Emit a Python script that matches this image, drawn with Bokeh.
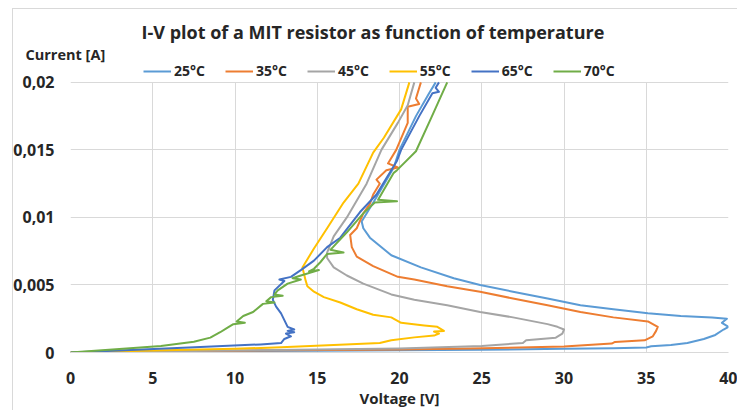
from bokeh.plotting import figure
from bokeh.models import Range1d, FixedTicker, Legend, LegendItem, Title, InlineStyleSheet
from bokeh.embed import file_html
from bokeh.resources import INLINE

# ---------------- data ----------------
series_labels = ["25°C", "35°C", "45°C", "55°C", "65°C", "70°C"]
series_colors = ["#5B9BD5", "#ED7D31", "#A5A5A5", "#FFC000", "#4472C4", "#70AD47"]

v25 = [0, 5, 10, 15, 20, 25, 30, 33, 35, 35.3, 36.5, 37.5, 38.5, 39.2, 39.7, 40.0, 39.6, 39.9, 39.0,
       37.1, 35.1, 33.0, 31.0, 29.0, 26.9, 24.9, 23.3, 21.3, 19.5, 18.2, 17.8, 17.7, 18.1, 18.6,
       19.65, 20.0, 21.0, 21.8, 22.2]
i25 = [0, 0.00005, 0.0001, 0.00013, 0.00016, 0.00021, 0.00027, 0.00032, 0.00037, 0.00046, 0.00055,
       0.0007, 0.001, 0.0013, 0.0017, 0.0019, 0.0022, 0.0025, 0.0026,
       0.0027, 0.0029, 0.0032, 0.0035, 0.0040, 0.0045, 0.0050, 0.0055, 0.0063, 0.0072, 0.0085, 0.0092,
       0.0097, 0.0105, 0.0115, 0.0137, 0.0150, 0.0175, 0.0192, 0.0200]

v35 = [0, 5, 10, 20, 24.3, 30, 32.9, 33.1, 34.9, 35.4, 35.6, 35.7, 35.1, 33.0, 31.0, 29.0, 26.9, 24.9,
       22.9, 20.9, 19.9, 18.4, 17.4, 17.1, 17.0, 17.4, 17.8, 18.2, 18.4, 18.8, 18.6, 19.2, 19.9, 19.3,
       19.8, 20.5, 20.5, 21.2, 21.0, 21.3]
i35 = [0, 0.00007, 0.00013, 0.00022, 0.00029, 0.00045, 0.00066, 0.00078, 0.0009, 0.0012, 0.0016,
       0.0019, 0.0023, 0.0026, 0.0030, 0.0035, 0.0040, 0.0045,
       0.0049, 0.0054, 0.0056, 0.0064, 0.0071, 0.0078, 0.0087, 0.0092, 0.0103, 0.0110, 0.0117, 0.0125,
       0.0128, 0.0135, 0.0137, 0.0140, 0.0150, 0.0170, 0.0182, 0.0184, 0.0188, 0.0200]

v45 = [0, 5, 10, 20, 25, 27.5, 27.7, 29.5, 29.9, 30.0, 29.6, 29.0, 26.9, 24.9, 22.9, 20.9, 19.5,
       17.8, 16.8, 16.0, 15.6, 15.6, 16.0, 16.8, 18.0, 18.9, 19.9, 20.5, 20.9]
i45 = [0, 0.00008, 0.00015, 0.0003, 0.00048, 0.0007, 0.0009, 0.0011, 0.0014, 0.0017, 0.0019, 0.0021,
       0.0026, 0.0030, 0.0035, 0.0039, 0.0043,
       0.0051, 0.0057, 0.0063, 0.0070, 0.0074, 0.0086, 0.0100, 0.0125, 0.0150, 0.0170, 0.0183, 0.0200]

v55 = [0, 5, 10, 12.8, 16, 18.8, 19.5, 20.9, 22.1, 22.4, 22.1, 22.7, 22.3, 21.5, 20.1, 19.5, 18.4,
       17.4, 16.4, 15.4, 14.8, 14.4, 14.3, 14.2, 14.1, 14.8, 15.6, 16.6, 17.5, 18.4, 19.05, 20.1,
       20.6]
i55 = [0, 0.00014, 0.00028, 0.00038, 0.00055, 0.0007, 0.0009, 0.00112, 0.00125, 0.0014, 0.00155,
       0.0016, 0.0019, 0.0020, 0.0022, 0.0026, 0.0028,
       0.0032, 0.0037, 0.0041, 0.0045, 0.0049, 0.0053, 0.0058, 0.0063, 0.0077, 0.0092, 0.0111,
       0.0125, 0.0148, 0.0159, 0.0180, 0.0200]

v65 = [0, 4, 7.9, 11.55, 12.8, 13.0, 13.4, 13.1, 13.6, 13.2, 13.6, 13.2, 13.0, 12.8, 12.5, 12.3,
       12.4, 13.0, 12.7, 13.4, 14.0, 14.8, 15.6, 16.4, 17.6, 18.6, 19.85, 20.1, 21.2, 22.0, 22.4,
       22.2, 22.4]
i65 = [0, 0.0002, 0.0004, 0.0006, 0.0007, 0.0010, 0.0012, 0.0014, 0.0015, 0.0016, 0.0017, 0.0019,
       0.0024, 0.0029, 0.0034, 0.0039,
       0.0046, 0.0053, 0.0054, 0.0056, 0.0061, 0.0068, 0.0078, 0.0085, 0.0104, 0.0117, 0.0142,
       0.0150, 0.0175, 0.0192, 0.0193, 0.0196, 0.0200]

v70 = [0, 3.4, 5.5, 7.5, 8.5, 9.1, 9.5, 9.9, 10.6, 10.1, 10.5, 11.1, 11.7, 12.4, 11.9, 12.2, 12.9,
       12.4, 12.6, 13.2, 14.0, 13.5, 14.0, 15.1, 14.5, 14.8, 15.2, 15.6, 16.6, 15.8, 16.8, 17.8,
       18.5, 19.85, 18.7, 19.65, 19.85, 21.0, 21.9, 22.9]
i70 = [0, 0.0003, 0.00048, 0.0008, 0.0011, 0.0015, 0.0018, 0.0021, 0.0022, 0.0023, 0.0027, 0.0030,
       0.0036, 0.0037, 0.0038, 0.0041, 0.0042,
       0.0043, 0.0046, 0.0051, 0.0054, 0.0055, 0.0057, 0.0061, 0.0060, 0.0062, 0.0067, 0.0073,
       0.0074, 0.0076, 0.0089, 0.0103,
       0.0111, 0.0112, 0.0113, 0.0133, 0.0135, 0.0149, 0.0173, 0.0200]

x_ticks = [0, 5, 10, 15, 20, 25, 30, 35, 40]
y_ticks = [0, 0.005, 0.01, 0.015, 0.02]
y_tick_labels = ["0", "0,005", "0,01", "0,015", "0,02"]

series_v = [v25, v35, v45, v55, v65, v70]
series_i = [i25, i35, i45, i55, i65, i70]

# ---------------- styling ----------------
FONT = "Open Sans"
TXT = "#262626"
GRID = "#D9D9D9"

Y_MAX = 0.02
Y_TOP = Y_MAX * (1 + 21 / 272)   # headroom inside the frame that holds the legend

p = figure(width=737, height=410, output_backend="svg", toolbar_location=None,
           x_range=Range1d(0, 40), y_range=Range1d(0, Y_TOP),
           min_border_left=70, min_border_right=9, min_border_top=61, min_border_bottom=56)
p.outline_line_color = None
p.background_fill_color = "white"
p.border_fill_color = "white"
p.stylesheets = [InlineStyleSheet(css=":host::after { content: ''; position: absolute; left: 12px; "
                                      "top: 8px; right: 0; bottom: 0; border-left: 1px solid #D9D9D9; "
                                      "border-top: 1px solid #D9D9D9; pointer-events: none; }")]

# axes
p.xaxis.ticker = FixedTicker(ticks=x_ticks)
p.yaxis.ticker = FixedTicker(ticks=y_ticks)
p.yaxis.major_label_overrides = {t: s for t, s in zip(y_ticks, y_tick_labels)}
for ax in (p.xaxis, p.yaxis):
    ax.major_tick_line_color = None
    ax.minor_tick_line_color = None
    ax.major_tick_out = 0
    ax.major_tick_in = 0
    ax.major_label_text_font = FONT
    ax.major_label_text_font_style = "bold"
    ax.major_label_text_font_size = "16px"
    ax.major_label_text_color = TXT
p.xaxis.axis_line_color = GRID
p.yaxis.axis_line_color = None
p.xaxis.major_label_standoff = 19
p.yaxis.major_label_standoff = 16
p.xaxis.axis_label = "Voltage [V]"
p.xaxis.axis_label_text_font = FONT
p.xaxis.axis_label_text_font_style = "bold"
p.xaxis.axis_label_text_font_size = "15px"
p.xaxis.axis_label_text_color = TXT
p.xaxis.axis_label_standoff = 1

p.xgrid.grid_line_color = GRID
p.ygrid.grid_line_color = GRID
p.xgrid.grid_line_width = 1
p.ygrid.grid_line_width = 1
p.xgrid.cross_bounds = (0, Y_MAX)

# series
renderers = []
for v, i, c in zip(series_v, series_i, series_colors):
    r = p.line(v, i, line_color=c, line_width=2, line_join="round")
    renderers.append(r)

legend = Legend(items=[LegendItem(label=l, renderers=[r]) for l, r in zip(series_labels, renderers)],
                orientation="horizontal", location=(73, 272),
                glyph_width=28, glyph_height=16, label_height=16, label_standoff=3, spacing=20,
                padding=3, margin=0,
                label_text_font=FONT, label_text_font_style="bold", label_text_font_size="14px",
                label_text_color=TXT, border_line_color=None, background_fill_alpha=0)
p.add_layout(legend, "center")

ylab = Title(text="Current [A]", align="left", offset=-45, text_font=FONT, text_font_style="bold",
             text_font_size="14.5px", text_color=TXT, standoff=-4)
p.add_layout(ylab, "above")

p.title.text = "I-V  plot of a MIT resistor as function of temperature"
p.title.align = "left"
p.title.offset = 71
p.title.text_font = FONT
p.title.text_font_style = "bold"
p.title.text_font_size = "18px"
p.title.text_color = TXT
p.title.standoff = 2

open("out.html", "w").write(file_html(p, INLINE))
